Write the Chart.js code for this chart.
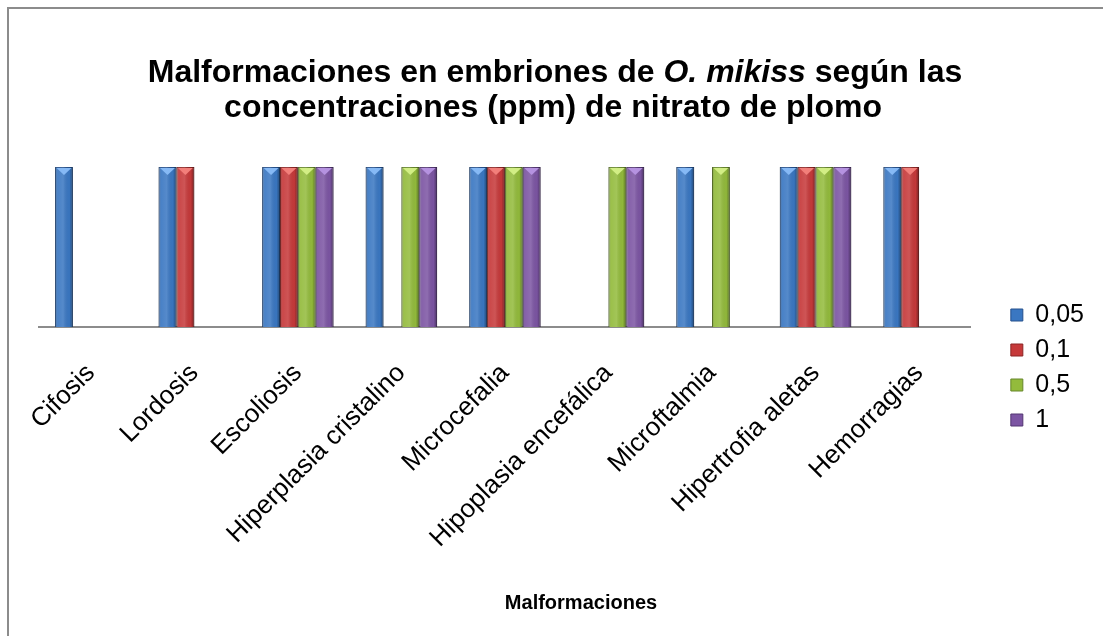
<!DOCTYPE html>
<html>
<head>
<meta charset="utf-8">
<script src="https://cdn.jsdelivr.net/npm/chart.js@4"></script>
<style>
  html, body { margin: 0; padding: 0; background: #fff; }
  #wrap { width: 1103px; height: 636px; position: relative; }
</style>
</head>
<body>
<div id="wrap"><canvas id="chart" width="1103" height="636"></canvas></div>
<script>
// Malformations observed (1 = present) per lead nitrate concentration
const categories = ['Cifosis', 'Lordosis', 'Escoliosis', 'Hiperplasia cristalino', 'Microcefalia',
  'Hipoplasia encefálica', 'Microftalmia', 'Hipertrofia aletas', 'Hemorragias'];
const seriesLabels = ['0,05', '0,1', '0,5', '1'];
const conc005 = [1, 1, 1, 1, 1, null, 1, 1, 1];
const conc01 = [null, 1, 1, null, 1, null, null, 1, 1];
const conc05 = [null, null, 1, 1, 1, 1, 1, 1, null];
const conc1 = [null, null, 1, 1, 1, 1, null, 1, null];

const COLORS = ['#3a77c2', '#c6393a', '#93bb3c', '#7c55a3'];
const LIGHT = ['#86b9f5', '#f27f7a', '#d2ee85', '#b592e0'];
const EDGE = ['#24508c', '#8c2524', '#66862a', '#523672'];
const FONT = '"Liberation Sans", Arial, sans-serif';

// Frame, title with the italic species name, axis title, bar bevels
const decor = {
  id: 'decor',
  afterLayout(chart) {
    // leave a gap between the plot and the legend, as in the original
    const lg = chart.legend;
    lg.left = chart.chartArea.right + 30;
    lg.right = lg.left + lg.width;
  },
  beforeDraw(chart) {
    const c = chart.ctx;
    c.save();
    c.fillStyle = '#fff';
    c.fillRect(0, 0, chart.width, chart.height);
    c.strokeStyle = '#8c8c8c';
    c.lineWidth = 2;
    c.strokeRect(8, 8, chart.width + 20, chart.height + 20);
    c.restore();
  },
  afterDraw(chart) {
    const c = chart.ctx;
    c.save();
    c.fillStyle = '#000';
    c.textBaseline = 'middle';
    const parts = [
      ['bold 32px ' + FONT, 'Malformaciones en embriones de '],
      ['italic bold 32px ' + FONT, 'O. mikiss'],
      ['bold 32px ' + FONT, ' según las']
    ];
    let total = 0;
    parts.forEach(p => { c.font = p[0]; total += c.measureText(p[1]).width; });
    let x = 555 - total / 2;
    parts.forEach(p => {
      c.font = p[0];
      c.textAlign = 'left';
      c.fillText(p[1], x, 73);
      x += c.measureText(p[1]).width;
    });
    c.font = 'bold 32px ' + FONT;
    c.textAlign = 'center';
    c.fillText('concentraciones (ppm) de nitrato de plomo', 553, 108);
    c.font = 'bold 20px ' + FONT;
    c.fillText('Malformaciones', 581, 603);
    c.restore();
  },
  afterDatasetsDraw(chart) {
    const c = chart.ctx;
    chart.data.datasets.forEach((ds, i) => {
      const meta = chart.getDatasetMeta(i);
      meta.data.forEach((bar, j) => {
        if (ds.data[j] == null) return;
        const l = bar.x - bar.width / 2, r = bar.x + bar.width / 2;
        const top = bar.y, bot = bar.base;
        const g = c.createLinearGradient(l, 0, r, 0);
        g.addColorStop(0, 'rgba(0,0,0,0.35)');
        g.addColorStop(0.15, 'rgba(255,255,255,0.08)');
        g.addColorStop(0.45, 'rgba(255,255,255,0.14)');
        g.addColorStop(0.8, 'rgba(0,0,0,0.02)');
        g.addColorStop(1, 'rgba(0,0,0,0.40)');
        c.save();
        c.fillStyle = g;
        c.fillRect(l, top, r - l, bot - top);
        c.fillStyle = LIGHT[i];
        c.beginPath();
        c.moveTo(l + 1.5, top + 1);
        c.lineTo(r - 1.5, top + 1);
        c.lineTo(bar.x, top + 8);
        c.closePath();
        c.fill();
        c.restore();
      });
    });
  }
};

const datasets = [conc005, conc01, conc05, conc1].map((d, i) => ({
  label: seriesLabels[i],
  data: d,
  backgroundColor: COLORS[i],
  borderColor: EDGE[i],
  borderWidth: 1,
  barPercentage: 1,
  categoryPercentage: 0.69
}));

new Chart(document.getElementById('chart'), {
  type: 'bar',
  data: { labels: categories, datasets: datasets },
  plugins: [decor],
  options: {
    responsive: false,
    animation: false,
    layout: { padding: { left: 39, top: 135, right: 39, bottom: 36 } },
    plugins: {
      legend: {
        position: 'right',
        labels: {
          font: { family: FONT, size: 25 },
          color: '#000',
          boxWidth: 12,
          boxHeight: 12,
          padding: 10
        }
      },
      tooltip: { enabled: false }
    },
    scales: {
      x: {
        grid: { display: false, drawTicks: false },
        border: { color: '#8c8c8c', width: 2 },
        ticks: {
          color: '#000',
          font: { family: FONT, size: 26 },
          maxRotation: 45,
          minRotation: 45,
          autoSkip: false,
          padding: 31
        },
        afterFit(scale) { scale.height = 273; }
      },
      y: {
        display: false,
        min: 0,
        max: 1.2
      }
    }
  }
});
</script>
</body>
</html>
